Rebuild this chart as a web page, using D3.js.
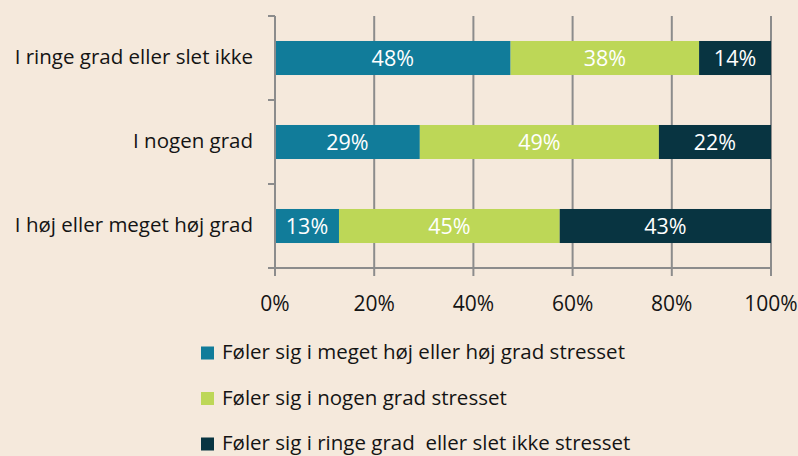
<!DOCTYPE html>
<html>
<head>
<meta charset="utf-8">
<script src="https://cdn.jsdelivr.net/npm/d3@7"></script>
<style>
  html, body { margin: 0; padding: 0; background: #f5e9dc; }
  svg { display: block; }
  text { font-family: "Open Sans", "Noto Sans", sans-serif; }
</style>
</head>
<body>
<svg id="chart" width="798" height="456"></svg>
<script>
// ---- data ----
const categories = ["I ringe grad eller slet ikke", "I nogen grad", "I høj eller meget høj grad"];
const seriesNames = [
  "Føler sig i meget høj eller høj grad stresset",
  "Føler sig i nogen grad stresset",
  "Føler sig i ringe grad  eller slet ikke stresset"
];
const seriesColors = ["#117c9a", "#bdd757", "#083441"];
// bar lengths (percent)
const highValues = [47.5, 29.2, 12.9];
const someValues = [38.0, 48.2, 44.5];
const lowValues  = [14.5, 22.6, 42.6];
// printed labels
const highLabels = ["48%", "29%", "13%"];
const someLabels = ["38%", "49%", "45%"];
const lowLabels  = ["14%", "22%", "43%"];
const xTicks = [0, 20, 40, 60, 80, 100];

const svg = d3.select("#chart");
const x = d3.scaleLinear().domain([0, 100]).range([275, 771]);
const y = d3.scaleBand().domain(categories).range([16, 268])
  .paddingInner(0.595).paddingOuter(0.2975);

const gridColor = "#8c8c8c";
const textColor = "#141414";

// vertical gridlines
svg.append("g").selectAll("line").data(xTicks.filter(d => d > 0)).join("line")
  .attr("x1", d => x(d)).attr("x2", d => x(d))
  .attr("y1", 16).attr("y2", 268)
  .attr("stroke", gridColor).attr("stroke-width", 2);

// stacked data
const rows = categories.map((c, i) => {
  const vals = [highValues[i], someValues[i], lowValues[i]];
  const labs = [highLabels[i], someLabels[i], lowLabels[i]];
  let acc = 0;
  return vals.map((v, j) => {
    const seg = { cat: c, s: j, x0: acc, x1: acc + v, label: labs[j] };
    acc += v;
    return seg;
  });
}).flat();

svg.append("g").selectAll("rect").data(rows).join("rect")
  .attr("x", d => x(d.x0))
  .attr("y", d => y(d.cat))
  .attr("width", d => x(d.x1) - x(d.x0))
  .attr("height", y.bandwidth())
  .attr("fill", d => seriesColors[d.s]);

svg.append("g").selectAll("text").data(rows).join("text")
  .attr("x", d => (x(d.x0) + x(d.x1)) / 2)
  .attr("y", d => y(d.cat) + y.bandwidth() / 2)
  .attr("dy", "0.36em")
  .attr("text-anchor", "middle")
  .attr("fill", "#ffffff")
  .style("font-size", "21.5px")
  .text(d => d.label);

// left axis
const yAxis = svg.append("g").attr("transform", "translate(275,0)");
yAxis.append("line").attr("x1", 0).attr("x2", 0).attr("y1", 16).attr("y2", 276)
  .attr("stroke", gridColor).attr("stroke-width", 2);
const boundaries = [y.range()[0]].concat(categories.map(c => y(c) - y.step() * y.paddingInner() / 2).slice(1)).concat([y.range()[1]]);
yAxis.selectAll("line.tick").data(boundaries).join("line").attr("class", "tick")
  .attr("x1", -7).attr("x2", 0).attr("y1", d => d).attr("y2", d => d)
  .attr("stroke", gridColor).attr("stroke-width", 2);

svg.append("g").selectAll("text").data(categories).join("text")
  .attr("x", 253)
  .attr("y", d => y(d) + y.bandwidth() / 2)
  .attr("dy", "0.3em")
  .attr("text-anchor", "end")
  .attr("fill", textColor)
  .style("font-size", "20.5px")
  .text(d => d);

// bottom axis
const xAxisG = svg.append("g");
xAxisG.append("line").attr("x1", 275).attr("x2", 771).attr("y1", 268).attr("y2", 268)
  .attr("stroke", gridColor).attr("stroke-width", 2);
xAxisG.selectAll("line.tick").data(xTicks).join("line").attr("class", "tick")
  .attr("x1", d => x(d)).attr("x2", d => x(d)).attr("y1", 268).attr("y2", 276)
  .attr("stroke", gridColor).attr("stroke-width", 2);
xAxisG.selectAll("text").data(xTicks).join("text")
  .attr("x", d => x(d)).attr("y", 303).attr("dy", "0.36em")
  .attr("text-anchor", "middle").attr("fill", textColor)
  .style("font-size", "21px")
  .text(d => d + "%");

// legend
const legend = svg.append("g").selectAll("g").data(seriesNames).join("g")
  .attr("transform", (d, i) => `translate(201,${353 + i * 45.5})`);
legend.append("rect").attr("x", 0).attr("y", -6.5).attr("width", 13).attr("height", 13)
  .attr("fill", (d, i) => seriesColors[i]);
legend.append("text").attr("x", 21).attr("y", 0).attr("dy", "0.3em")
  .attr("fill", textColor).style("font-size", "20.5px").style("white-space", "pre")
  .text(d => d);
</script>
</body>
</html>
